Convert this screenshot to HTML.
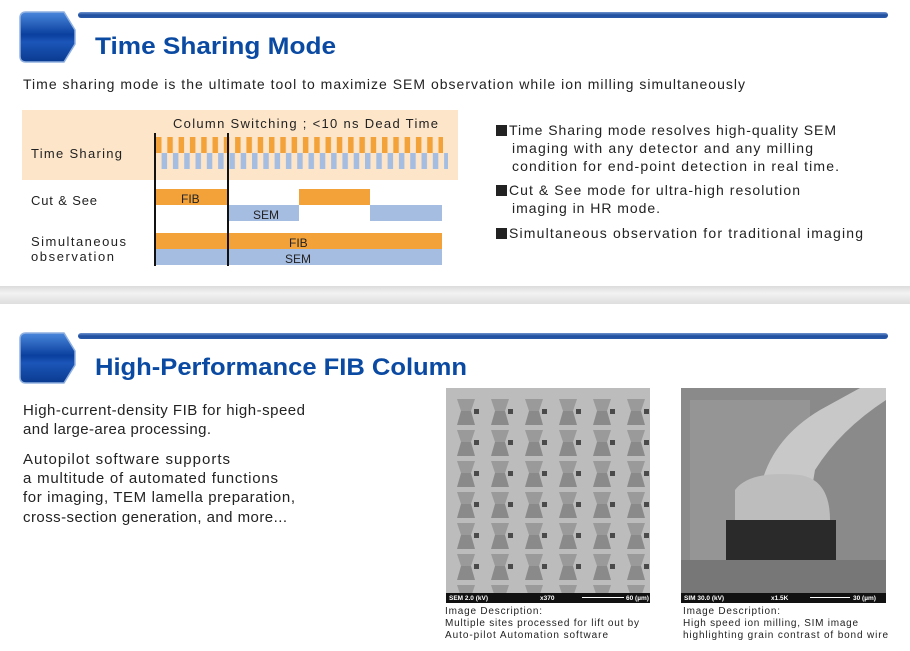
<!DOCTYPE html>
<html><head><meta charset="utf-8"><style>
html,body{margin:0;padding:0;background:#fff;width:910px;height:651px;overflow:hidden}
svg text{font-family:"Liberation Sans","DejaVu Sans",sans-serif}
</style></head><body>
<svg width="910" height="651" viewBox="0 0 910 651" xmlns="http://www.w3.org/2000/svg">
<defs>
<linearGradient id="ic" x1="0" y1="0" x2="0" y2="1">
<stop offset="0" stop-color="#4a88dc"/><stop offset="0.45" stop-color="#0a3f9e"/><stop offset="0.6" stop-color="#1b56b8"/><stop offset="1" stop-color="#0a3a90"/></linearGradient>
<linearGradient id="bar" x1="0" y1="0" x2="0" y2="1">
<stop offset="0" stop-color="#6f93d0"/><stop offset="0.5" stop-color="#1f4f9f"/><stop offset="1" stop-color="#2a5aa8"/></linearGradient>
<linearGradient id="sep" x1="0" y1="0" x2="0" y2="1">
<stop offset="0" stop-color="#dcdcdc"/><stop offset="0.4" stop-color="#f2f2f2"/><stop offset="1" stop-color="#dedede"/></linearGradient>
<pattern id="os" x="156" y="0" width="11.3" height="20" patternUnits="userSpaceOnUse"><rect x="0" y="0" width="5.5" height="20" fill="#f3a23a"/></pattern>
<pattern id="bs" x="161.6" y="0" width="11.3" height="20" patternUnits="userSpaceOnUse"><rect x="0" y="0" width="5.5" height="20" fill="#a6bde2"/></pattern>
<pattern id="trap" x="455" y="397" width="34" height="31" patternUnits="userSpaceOnUse">
<path d="M2 2 L20 2 L16 14 L6 14 Z" fill="#9a9a9a"/><path d="M6 14 L16 14 L20 28 L2 28 Z" fill="#8a8a8a"/><rect x="19" y="12" width="5" height="5" fill="#4a4a4a"/></pattern>
</defs>

<path d="M26 12 H64 L75 30 V44 L64 62 H26 Q20 62 20 56 V18 Q20 12 26 12Z" fill="url(#ic)" stroke="#8fb0e0" stroke-width="1.5"/>
<rect x="78" y="12" width="810" height="6" rx="3" fill="url(#bar)"/>
<text x="95" y="54" font-size="24" font-weight="bold" fill="#0b4aa2" textLength="241" lengthAdjust="spacingAndGlyphs">Time Sharing Mode</text>
<text x="23" y="89" font-size="14" fill="#222" textLength="722">Time sharing mode is the ultimate tool to maximize SEM observation while ion milling simultaneously</text>

<rect x="22" y="110" width="436" height="70" fill="#fde5c9"/>
<text x="173" y="128" font-size="13" fill="#222" textLength="265">Column Switching ; &lt;10 ns Dead Time</text>
<rect x="156" y="137" width="287" height="16" fill="url(#os)"/>
<rect x="161" y="153" width="287" height="16" fill="url(#bs)"/>
<text x="31" y="158" font-size="13" fill="#222" textLength="91">Time Sharing</text>
<text x="31" y="205" font-size="13" fill="#222" textLength="66">Cut &amp; See</text>
<text x="31" y="246" font-size="13" fill="#222" textLength="95">Simultaneous</text>
<text x="31" y="261" font-size="13" fill="#222" textLength="83">observation</text>
<rect x="156" y="189" width="72" height="16" fill="#f3a23a"/>
<rect x="229" y="205" width="70" height="16" fill="#a6bde2"/>
<rect x="299" y="189" width="71" height="16" fill="#f3a23a"/>
<rect x="370" y="205" width="72" height="16" fill="#a6bde2"/>
<rect x="156" y="233" width="286" height="16" fill="#f3a23a"/>
<rect x="156" y="249" width="286" height="16" fill="#a6bde2"/>
<text x="181" y="203" font-size="12" fill="#222">FIB</text>
<text x="253" y="219" font-size="12" fill="#222">SEM</text>
<text x="289" y="247" font-size="12" fill="#222">FIB</text>
<text x="285" y="263" font-size="12" fill="#222">SEM</text>
<rect x="154" y="133" width="2" height="133" fill="#111"/>
<rect x="227" y="133" width="2" height="133" fill="#111"/>

<g font-size="14" fill="#222">
<rect x="496" y="125" width="11" height="11" fill="#222"/>
<text x="509" y="135" textLength="327">Time Sharing mode resolves high-quality SEM</text>
<text x="512" y="153" textLength="301">imaging with any detector and any milling</text>
<text x="512" y="171" textLength="327">condition for end-point detection in real time.</text>
<rect x="496" y="185" width="11" height="11" fill="#222"/>
<text x="509" y="195" textLength="291">Cut &amp; See mode for ultra-high resolution</text>
<text x="512" y="213" textLength="148">imaging in HR mode.</text>
<rect x="496" y="228" width="11" height="11" fill="#222"/>
<text x="509" y="238" textLength="354">Simultaneous observation for traditional imaging</text>
</g>

<rect x="0" y="286" width="910" height="18" fill="url(#sep)"/>

<path d="M26 333 H64 L75 351 V365 L64 383 H26 Q20 383 20 377 V339 Q20 333 26 333Z" fill="url(#ic)" stroke="#8fb0e0" stroke-width="1.5"/>
<rect x="78" y="333" width="810" height="6" rx="3" fill="url(#bar)"/>
<text x="95" y="375" font-size="24" font-weight="bold" fill="#0b4aa2" textLength="372" lengthAdjust="spacingAndGlyphs">High-Performance FIB Column</text>

<g font-size="15" fill="#222">
<text x="23" y="415" textLength="282">High-current-density FIB for high-speed</text>
<text x="23" y="434" textLength="188">and large-area processing.</text>
<text x="23" y="464" textLength="207">Autopilot  software supports</text>
<text x="23" y="483" textLength="255">a multitude of automated functions</text>
<text x="23" y="502" textLength="272">for imaging, TEM lamella preparation,</text>
<text x="23" y="522" textLength="264">cross-section generation, and more...</text>
</g>

<rect x="446" y="388" width="204" height="215" fill="#bcbcbc"/>
<rect x="446" y="397" width="204" height="196" fill="url(#trap)"/>
<rect x="446" y="593" width="204" height="10" fill="#111"/>
<g font-size="6.5" fill="#fff" font-weight="bold"><text x="449" y="600">SEM 2.0 (kV)</text><text x="540" y="600">x370</text><text x="626" y="600">60 (µm)</text></g>
<rect x="582" y="597" width="42" height="1" fill="#fff"/>

<rect x="681" y="388" width="205" height="215" fill="#8a8a8a"/>
<rect x="690" y="400" width="120" height="180" fill="#9a9a9a" opacity="0.7"/>
<path d="M760 490 Q770 440 820 410 L860 388 L886 388 L886 400 Q840 430 815 470 L810 500 Z" fill="#c8c8c8"/>
<path d="M735 490 Q750 470 800 475 Q830 480 830 520 L735 520 Z" fill="#bdbdbd"/>
<rect x="726" y="520" width="110" height="40" fill="#2a2a2a"/>
<rect x="681" y="560" width="205" height="33" fill="#777"/>
<rect x="681" y="593" width="205" height="10" fill="#111"/>
<g font-size="6.5" fill="#fff" font-weight="bold"><text x="684" y="600">SIM  30.0 (kV)</text><text x="771" y="600">x1.5K</text><text x="853" y="600">30 (µm)</text></g>
<rect x="810" y="597" width="40" height="1" fill="#fff"/>

<g font-size="10" fill="#222">
<text x="445" y="614" textLength="97">Image Description:</text>
<text x="445" y="626" textLength="194">Multiple sites processed for lift out by</text>
<text x="445" y="638" textLength="163">Auto-pilot Automation software</text>
<text x="683" y="614" textLength="97">Image Description:</text>
<text x="683" y="626" textLength="175">High speed ion milling, SIM image</text>
<text x="683" y="638" textLength="205">highlighting grain contrast of bond wire</text>
</g>
</svg>
</body></html>
